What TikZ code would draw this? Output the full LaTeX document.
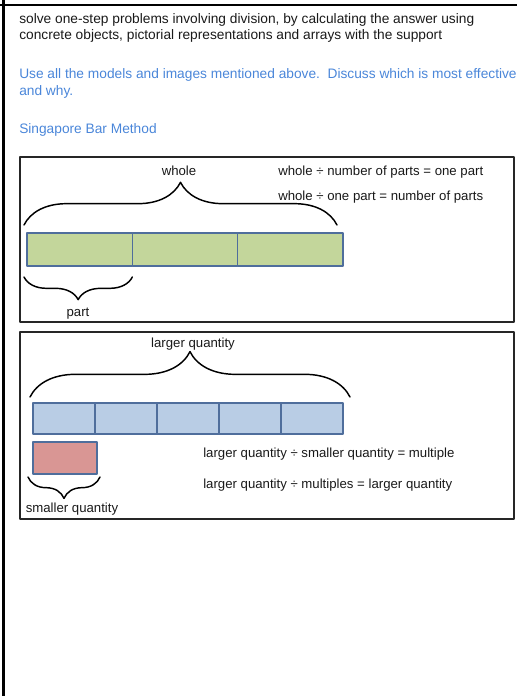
\documentclass[tikz,border=0pt]{standalone}
\usepackage{fontspec}
\setmainfont{Liberation Sans}
\usetikzlibrary{decorations.pathreplacing,calc}
\definecolor{BarGreen}{HTML}{C3D69B}
\definecolor{BarBlue}{HTML}{B9CDE5}
\definecolor{BarRed}{HTML}{D99694}
\definecolor{BarEdge}{HTML}{4F6E9C}
\definecolor{TextBlue}{HTML}{4A86D9}

\begin{document}
\begin{tikzpicture}[x=0.75pt,y=-0.75pt,line cap=round,line join=round,
  txt/.style={inner sep=0pt,text=black!90,font=\fontsize{10.3}{12}\selectfont},
  small/.style={inner sep=0pt,text=black!90,font=\fontsize{9.9}{12}\selectfont},
  cell/.style={inner sep=0pt,outer sep=0pt},
  edge/.style={draw=BarEdge,line width=1.1pt},
  curly/.style={decorate,decoration={brace,amplitude=#1},line width=1.1pt}]
  \useasboundingbox (0,0) rectangle (517,696);
  \draw[line width=2.2pt] (3.5,0) -- (3.5,696);
  \draw[line width=1.6pt] (0,5) -- (517,5);

  \node[txt,anchor=base west] (aim1) at (19,23) {solve one-step problems involving division, by calculating the answer using};
  \node[txt,anchor=base west] (aim2) at (19,39) {concrete objects, pictorial representations and arrays with the support};
  \node[txt,text=TextBlue,anchor=base west] (task1) at (19,78) {Use all the models and images mentioned above.\ \ Discuss which is most effective};
  \node[txt,text=TextBlue,anchor=base west] (task2) at (19,95) {and why.};
  \node[txt,text=TextBlue,anchor=base west] (title) at (19,133) {Singapore Bar Method};

  \draw[line width=1.2pt,black!85] (20,157) rectangle (514,322);
  \draw[line width=1.2pt,black!85] (20,332) rectangle (514,519);

  \foreach \i in {1,2,3}
    \node[cell,fill=BarGreen,minimum width=79pt,minimum height=24.75pt] (g\i) at ({27+105.33*(\i-0.5)},249.5) {};
  \foreach \i in {1,2,3}
    \draw[edge] (g\i.north west) rectangle (g\i.south east);
  \draw[curly=32pt] ($(g1.north west)+(-3,-8)$) -- ($(g3.north east)+(-6,-8)$);
  \draw[curly=17pt] ($(g1.south east)+(0,11)$) -- ($(g1.south west)+(-3,11)$);
  \node[small,anchor=base] (whole) at (179,175) {whole};
  \node[small,anchor=base] (part) at (78,316) {part};
  \node[small,anchor=base west] (rule1) at (278,175) {whole ÷ number of parts = one part};
  \node[small,anchor=base west] (rule2) at (278,200) {whole ÷ one part = number of parts};

  \foreach \i in {1,...,5}
    \node[cell,fill=BarBlue,minimum width=46.5pt,minimum height=23.25pt] (b\i) at ({33+62*(\i-0.5)},418.5) {};
  \foreach \i in {1,...,5}
    \draw[edge] (b\i.north west) rectangle (b\i.south east);
  \node[cell,edge,fill=BarRed,minimum width=48pt,minimum height=24pt] (r) at (65,458) {};
  \draw[curly=34pt] ($(b1.north west)+(-3,-6)$) -- ($(b5.north east)+(7,-6)$);
  \draw[curly=16pt] ($(r.south east)+(3,3)$) -- ($(r.south west)+(-5,3)$);
  \node[small,anchor=base] (larger) at (193,347) {larger quantity};
  \node[small,anchor=base] (smaller) at (72,512) {smaller quantity};
  \node[small,anchor=base west] (rule3) at (203,457) {larger quantity ÷ smaller quantity = multiple};
  \node[small,anchor=base west] (rule4) at (203,488) {larger quantity ÷ multiples = larger quantity};
\end{tikzpicture}
\end{document}
